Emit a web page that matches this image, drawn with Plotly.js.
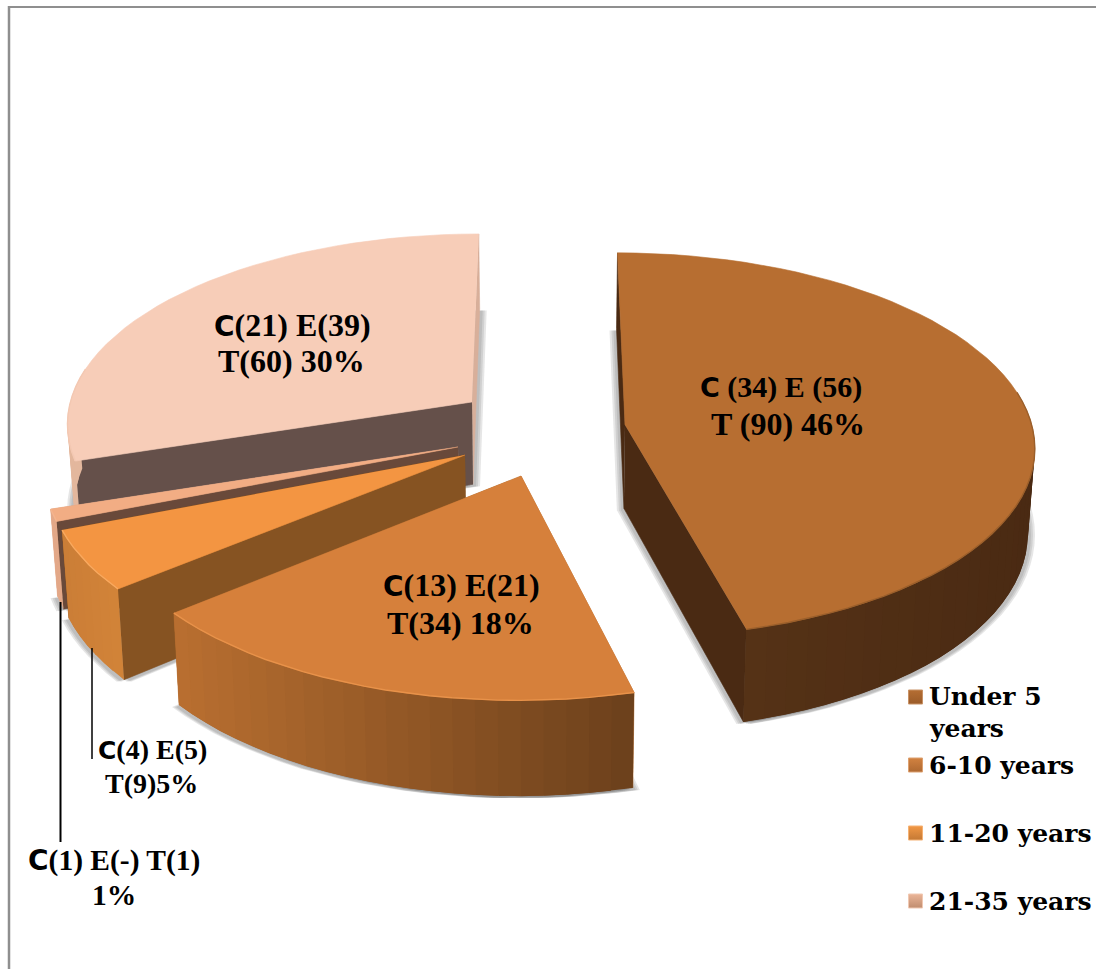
<!DOCTYPE html>
<html>
<head>
<meta charset="utf-8">
<script src="https://cdn.plot.ly/plotly-3.0.1.min.js"></script>
<style>html,body{margin:0;padding:0;background:#fff}#chart{width:1096px;height:969px}</style>
</head>
<body>
<div id="chart"></div>
<script>
// Survey counts per experience band, in drawing order round the pie.
const totals = [90, 34, 9, 1, 60];
const cCounts = [34, 13, 4, 1, 21];
const eCounts = ['56', '21', '5', '-', '39'];
const percents = [46, 18, 5, 1, 30];
const legendNames = ['Under 5 years', '6-10 years', '11-20 years', '21-35 years'];

// Slice appearance.
const topColors = ['#B76E31', '#D6803B', '#F39542', '#F2AD84', '#F7CDB8'];
const rimColors = ['#9b5f2b', '#E8924A', '#F9A95F', '#F4B48E', '#F3C8B2'];
const startCutColors = ['#4A2A13', '#B56D30', '#865322', '#69493A', '#65504A'];
const endCutColors = ['#4A2A13', '#B56D30', '#865322', '#E3A888', '#D8AF9A'];
const wallFrom = ['#4A2A13', '#6B401C', '#D28338', '#E3A888', '#E3B79D'];
const wallTo = ['#553216', '#B96F30', '#CB7E37', '#E3A888', '#E3B79D'];
const legendColors = ['#B56E33', '#D28240', '#F29845', '#EBB598'];

// Projection of the tilted disc and where each exploded slice has its tip.
const cx = 545, cy = 440, A = 410, B = 193, P = 0.104, DEPTH = 84, LEAN = 0.014;
const tipX = [625, 521, 465, 458, 472];
const tipY = [425, 476, 455, 447, 402];

const proj = (U, V) => { const s = 1 / (1 + P * V); return [cx + A * U * s, cy - B * V * s, s]; };
const sunk = (p) => [cx + (p[0] - cx) * (1 - LEAN), p[1] + DEPTH * p[2], p[2]];
const sum = percents.reduce((a, b) => a + b, 0);

function mix(a, b, t) {
  const h = (c, i) => parseInt(c.substr(1 + 2 * i, 2), 16);
  return 'rgb(' + [0, 1, 2].map(i => Math.round(h(a, i) + (h(b, i) - h(a, i)) * t)).join(',') + ')';
}
function poly(pts, fill, lw, lc) {
  return { type: 'scatter', mode: 'lines', hoverinfo: 'skip', showlegend: false, fill: 'toself', fillcolor: fill,
    x: pts.map(p => p[0]), y: pts.map(p => p[1]), line: { width: lw === undefined ? 0.6 : lw, color: lc || fill } };
}

const shadowTraces = [], sliceTraces = [];
let running = 0;
const sliceGeom = percents.map((v, i) => {
  const t0 = running / sum * 2 * Math.PI;
  running += v;
  const t1 = running / sum * 2 * Math.PI;
  const w = (cy - tipY[i]) / B, V0 = w / (1 - P * w), s0 = 1 / (1 + P * V0);
  const U0 = (tipX[i] - cx) / (A * s0);
  const pt = t => proj(U0 + Math.sin(t), V0 + Math.cos(t));
  return { t0, t1, tip: proj(U0, V0), pt };
});

sliceGeom.forEach((g, i) => {
  const n = Math.max(2, Math.ceil((g.t1 - g.t0) / 0.05));
  const arc = [];
  for (let k = 0; k <= n; k++) arc.push(g.pt(g.t0 + (g.t1 - g.t0) * k / n));
  const ang = k => g.t0 + (g.t1 - g.t0) * k / n;
  // soft shadow under the base of the slice
  const base = [g.tip].concat(arc).map(sunk);
  [7, 5, 3].forEach(d => [-d, d].forEach(dx => {
    const shifted = base.map(p => [p[0] + dx, p[1] + 2]);
    shadowTraces.push(poly(shifted, 'rgba(90,90,90,0.15)', 0));
  }));
  const tr = [];
  // the two straight cut faces
  const a0 = arc[0], a1 = arc[n];
  tr.push(poly([g.tip, a1, sunk(a1), sunk(g.tip)], endCutColors[i]));
  tr.push(poly([g.tip, a0, sunk(a0), sunk(g.tip)], startCutColors[i]));
  // curved outer wall, shaded strip by strip; each strip laps over the next so no gaps show
  const front = [];
  for (let k = 0; k < n; k++) if (Math.cos((ang(k) + ang(k + 1)) / 2) < 0.02) front.push(k);
  front.forEach(k => {
    const xm = (arc[k][0] + arc[k + 1][0]) / 2;
    const xs = front.flatMap(j => [arc[j][0], arc[j + 1][0]]);
    const lo = Math.min(...xs), hi = Math.max(...xs);
    const t = hi > lo ? (hi - xm) / (hi - lo) : 0;
    const e = arc[Math.min(k + 2, n)];
    tr.push(poly([arc[k], arc[k + 1], e, sunk(e), sunk(arc[k + 1]), sunk(arc[k])], mix(wallFrom[i], wallTo[i], t), 0));
  });
  // upper face and the bevel along its near rim
  tr.push(poly([g.tip].concat(arc), topColors[i], 0.6));
  const rim = arc.filter((p, k) => Math.cos(ang(k)) < 0.2);
  tr.push({ type: 'scatter', mode: 'lines', hoverinfo: 'skip', showlegend: false,
    x: rim.map(p => p[0]), y: rim.map(p => p[1]), line: { width: 1.4, color: rimColors[i] } });
  g.traces = tr;
});

// Far slices first so nearer ones cover them.
[4, 3, 2, 1, 0].forEach(i => sliceTraces.push(...sliceGeom[i].traces));

// Legend swatches.
const swatchY = [697, 765, 833, 901];
const swatches = legendNames.map((name, i) => ({
  type: 'scatter', mode: 'markers', name, hoverinfo: 'skip', showlegend: false, x: [915.5], y: [swatchY[i]],
  marker: { symbol: 'square', size: 14, color: legendColors[i], gradient: { type: 'vertical', color: mix(legendColors[i], '#5a3010', 0.3) },
    line: { width: 1, color: mix(legendColors[i], '#ffffff', 0.25) } }
}));

// Text helpers.
const serif = 'Liberation Serif, Times New Roman, serif';
const boldC = size => `<span style="font-family:DejaVu Sans;font-size:${size}px">C</span>`;
const note = (text, x, y, size, anchor, family) => ({
  text: '<b>' + text + '</b>', x, y, xref: 'x', yref: 'y', showarrow: false,
  xanchor: anchor || 'center', yanchor: 'middle', font: { family: family || serif, size, color: '#000' }
});
const sz = 32;
const annotations = [
  note(`${boldC(27)} (${cCounts[0]}) E (${eCounts[0]})`, 781, 387, 30),
  note(`T (${totals[0]}) ${percents[0]}%`, 788, 424, sz),
  note(`${boldC(28)}(${cCounts[1]}) E(${eCounts[1]})`, 461, 584.5, sz),
  note(`T(${totals[1]}) ${percents[1]}%`, 460, 622.5, sz),
  note(`${boldC(28)}(${cCounts[4]}) E(${eCounts[4]})`, 292, 324.5, sz),
  note(`T(${totals[4]}) ${percents[4]}%`, 291, 360.5, sz),
  note(`${boldC(25)}(${cCounts[2]}) E(${eCounts[2]})`, 152, 749.5, 28),
  note(`T(${totals[2]})${percents[2]}%`, 151, 783.5, 28),
  note(`${boldC(28)}(${cCounts[3]}) E(${eCounts[3]}) T(${totals[3]})`, 114, 860.5, 29.5),
  note(`${percents[3]}%`, 114, 894.5, 29.5)
];
const legendFont = 'DejaVu Serif, serif';
annotations.push(
  note('Under 5', 927, 696, 25, 'left', legendFont),
  note('years', 927, 728, 25, 'left', legendFont),
  note(legendNames[1], 927, 765, 25, 'left', legendFont),
  note(legendNames[2], 927, 833, 25, 'left', legendFont),
  note(legendNames[3], 927, 901, 25, 'left', legendFont)
);

const lineShape = (x0, y0, x1, y1, color, width) => ({ type: 'line', xref: 'x', yref: 'y', x0, y0, x1, y1, line: { color, width } });
const shapes = [
  lineShape(9, 6, 9, 969, '#8f8f8f', 2.5),
  lineShape(8, 7, 1096, 7, '#8f8f8f', 2),
  lineShape(60.5, 602, 60.5, 842, '#000', 2),
  lineShape(92, 648, 92, 759, '#000', 1.5)
];

Plotly.newPlot('chart', shadowTraces.concat(sliceTraces, swatches), {
  width: 1096, height: 969, margin: { l: 0, r: 0, t: 0, b: 0 },
  paper_bgcolor: '#fff', plot_bgcolor: '#fff', showlegend: false,
  xaxis: { range: [0, 1096], visible: false, fixedrange: true },
  yaxis: { range: [969, 0], visible: false, fixedrange: true },
  annotations, shapes
}, { displayModeBar: false, staticPlot: true });
</script>
</body>
</html>
